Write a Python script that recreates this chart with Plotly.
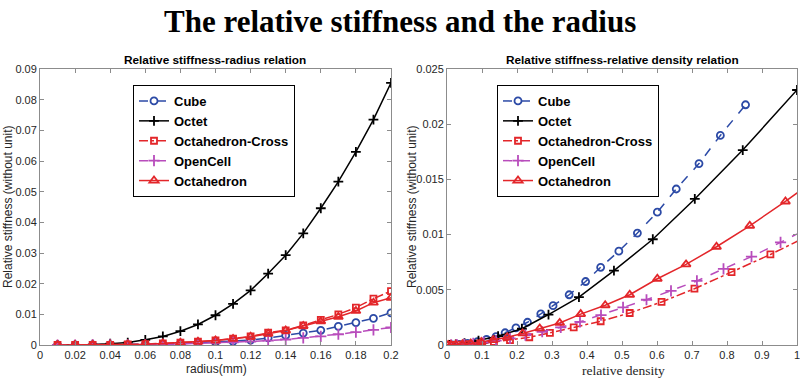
import plotly.graph_objects as go

# ---------------- data ----------------
radius = [0.01, 0.02, 0.03, 0.04, 0.05, 0.06, 0.07, 0.08, 0.09, 0.10,
          0.11, 0.12, 0.13, 0.14, 0.15, 0.16, 0.17, 0.18, 0.19, 0.20]

left_cube = [0.0, 0.00001, 0.00003, 0.00006, 0.00012, 0.0002, 0.0003, 0.00045, 0.0007, 0.0009,
             0.0012, 0.0016, 0.0023, 0.0031, 0.0039, 0.0048, 0.0061, 0.0073, 0.0087, 0.0105]
left_octet = [0.00001, 0.00005, 0.00015, 0.0004, 0.0008, 0.0017, 0.0028, 0.0045, 0.0067, 0.0097,
              0.0134, 0.0178, 0.0233, 0.0293, 0.0364, 0.0446, 0.0533, 0.0630, 0.0735, 0.0855]
left_cross = [0.0, 0.00001, 0.00003, 0.00007, 0.00016, 0.0003, 0.0005, 0.0008, 0.0011, 0.0015,
              0.0021, 0.0028, 0.0040, 0.0048, 0.0064, 0.0082, 0.0100, 0.0122, 0.0151, 0.0176]
left_open = [0.0, 0.0, 0.00001, 0.00003, 0.00007, 0.00013, 0.0002, 0.0003, 0.0005, 0.0007,
             0.0009, 0.0011, 0.0014, 0.0018, 0.0023, 0.0028, 0.0035, 0.0042, 0.0049, 0.0057]
left_octa = [0.0, 0.00001, 0.00003, 0.00006, 0.00014, 0.00028, 0.00048, 0.00075, 0.0011, 0.0015,
             0.0020, 0.0027, 0.0037, 0.0047, 0.0062, 0.0077, 0.0092, 0.0111, 0.0138, 0.0154]

right_cube_x = [0.015, 0.035, 0.059, 0.087, 0.113, 0.140, 0.166, 0.197, 0.230, 0.268,
                0.303, 0.349, 0.396, 0.439, 0.491, 0.544, 0.601, 0.655, 0.720, 0.781, 0.853]
right_cube_y = [0.00002, 0.00006, 0.00015, 0.0003, 0.0005, 0.00075, 0.00111, 0.00156, 0.00206, 0.00282,
                0.00356, 0.00455, 0.00575, 0.00704, 0.0085, 0.01014, 0.01203, 0.01413, 0.01643, 0.01898, 0.02176]

right_octet_x = [0.006, 0.025, 0.050, 0.090, 0.146, 0.214, 0.290, 0.377, 0.477, 0.588, 0.708, 0.845, 1.0]
right_octet_y = [0.00001, 0.00005, 0.00017, 0.0004, 0.00081, 0.00147, 0.00276, 0.00434, 0.00673, 0.00958,
                 0.01323, 0.01766, 0.0231]

right_cross_x = [0.006, 0.018, 0.037, 0.062, 0.095, 0.134, 0.180, 0.235, 0.294, 0.362,
                 0.439, 0.522, 0.613, 0.707, 0.813, 0.924, 1.04]
right_cross_y = [0.0, 0.00001, 0.00003, 0.00007, 0.00014, 0.00027, 0.00045, 0.0007, 0.0011, 0.0016,
                 0.00215, 0.0029, 0.0039, 0.0051, 0.0066, 0.0082, 0.0100]

right_open_x = [0.012, 0.028, 0.049, 0.075, 0.105, 0.140, 0.180, 0.224, 0.272, 0.325,
                0.380, 0.440, 0.503, 0.570, 0.640, 0.714, 0.790, 0.870, 0.953, 1.04]
right_open_y = [0.00001, 0.00003, 0.00007, 0.00014, 0.00025, 0.0004, 0.0006, 0.0009, 0.0012, 0.0016,
                0.0021, 0.0027, 0.0034, 0.0041, 0.0049, 0.0058, 0.0069, 0.0080, 0.0093, 0.0107]

right_octa_x = [0.003, 0.011, 0.025, 0.044, 0.068, 0.098, 0.132, 0.172, 0.216, 0.265,
                0.322, 0.382, 0.452, 0.522, 0.601, 0.683, 0.770, 0.865, 0.967, 1.075]
right_octa_y = [0.0, 0.00001, 0.00002, 0.00006, 0.00014, 0.00027, 0.00045, 0.0007, 0.00105, 0.0015,
                0.0020, 0.0028, 0.0036, 0.00455, 0.0060, 0.0073, 0.0089, 0.0108, 0.0130, 0.0155]

names = ["Cube", "Octet", "Octahedron-Cross", "OpenCell", "Octahedron"]
left_x_ticks = [0, 0.02, 0.04, 0.06, 0.08, 0.1, 0.12, 0.14, 0.16, 0.18, 0.2]
left_y_ticks = [0, 0.01, 0.02, 0.03, 0.04, 0.05, 0.06, 0.07, 0.08, 0.09]
right_x_ticks = [0, 0.1, 0.2, 0.3, 0.4, 0.5, 0.6, 0.7, 0.8, 0.9, 1]
right_y_ticks = [0, 0.005, 0.01, 0.015, 0.02, 0.025]

# ---------------- styles ----------------
BLUE = "#2c4aa6"
BLACK = "#000000"
RED = "#e3262a"
PURPLE = "#b84cbc"
styles = {
    "Cube": dict(color=BLUE, dash="dash", symbol="circle-open", size=7, lw=1.5),
    "Octet": dict(color=BLACK, dash="solid", symbol="cross-thin-open", size=7, lw=1.5),
    "Octahedron-Cross": dict(color=RED, dash="dashdot", symbol="square-open", size=6, lw=1.5),
    "OpenCell": dict(color=PURPLE, dash="dash", symbol="cross-thin-open", size=8, lw=1.5),
    "Octahedron": dict(color=RED, dash="solid", symbol="triangle-up-open", size=8, lw=1.5),
}

fig = go.Figure()

left_sets = [left_cube, left_octet, left_cross, left_open, left_octa]
right_sets = [(right_cube_x, right_cube_y), (right_octet_x, right_octet_y),
              (right_cross_x, right_cross_y), (right_open_x, right_open_y),
              (right_octa_x, right_octa_y)]

for name, ys in zip(names, left_sets):
    s = styles[name]
    fig.add_trace(go.Scatter(
        x=radius, y=ys, name=name, mode="lines+markers",
        line=dict(color=s["color"], dash=s["dash"], width=s["lw"]),
        marker=dict(symbol=s["symbol"], size=s["size"], color=s["color"],
                    line=dict(color=s["color"], width=1.8)),
        xaxis="x", yaxis="y", legend="legend", cliponaxis=True))

for name, (xs, ys) in zip(names, right_sets):
    s = styles[name]
    fig.add_trace(go.Scatter(
        x=xs, y=ys, name=name, mode="lines+markers",
        line=dict(color=s["color"], dash=s["dash"], width=s["lw"]),
        marker=dict(symbol=s["symbol"], size=s["size"], color=s["color"],
                    line=dict(color=s["color"], width=1.8)),
        xaxis="x2", yaxis="y2", legend="legend2", cliponaxis=True))

W, H = 800, 381
def px(x):
    return x / W
def py(y):
    return 1 - y / H

tickfont = dict(family="Liberation Sans, Arial", size=11, color="#262626")
axis_common = dict(showgrid=False, zeroline=False, showline=True, linecolor="#8c8c8c",
                   linewidth=1, mirror="ticks", ticks="inside", ticklen=4,
                   tickcolor="#8c8c8c", tickfont=tickfont, ticklabeloverflow="allow")

legend_font = dict(family="Liberation Sans, Arial", size=13, color="black", weight="bold")

fig.update_layout(
    width=W, height=H,
    margin=dict(l=0, r=0, t=0, b=0, autoexpand=False),
    paper_bgcolor="white", plot_bgcolor="white",
    showlegend=True,
    xaxis=dict(domain=[px(40), px(391)], range=[0, 0.2], tickvals=left_x_ticks,
               ticktext=["0", "0.02", "0.04", "0.06", "0.08", "0.1", "0.12", "0.14", "0.16", "0.18", "0.2"],
               anchor="y", **axis_common),
    yaxis=dict(domain=[py(345), py(69)], range=[0, 0.09], tickvals=left_y_ticks,
               ticktext=["0", "0.01", "0.02", "0.03", "0.04", "0.05", "0.06", "0.07", "0.08", "0.09"],
               anchor="x", **axis_common),
    xaxis2=dict(domain=[px(447), px(797)], range=[0, 1], tickvals=right_x_ticks,
                ticktext=["0", "0.1", "0.2", "0.3", "0.4", "0.5", "0.6", "0.7", "0.8", "0.9", "1"],
                anchor="y2", **axis_common),
    yaxis2=dict(domain=[py(345), py(69)], range=[0, 0.025], tickvals=right_y_ticks,
                ticktext=["0", "0.005", "0.01", "0.015", "0.02", "0.025"],
                anchor="x2", **axis_common),
    legend=dict(x=px(133), y=py(85), xanchor="left", yanchor="top",
                bgcolor="white", bordercolor="#000000", borderwidth=1,
                font=legend_font, tracegroupgap=0, itemwidth=30),
    legend2=dict(x=px(497), y=py(85), xanchor="left", yanchor="top",
                 bgcolor="white", bordercolor="#000000", borderwidth=1,
                 font=legend_font, tracegroupgap=0, itemwidth=30),
)

annots = [
    dict(text="<b>The relative stiffness and the radius</b>", x=0.5, y=py(22),
         font=dict(family="Liberation Serif, Times New Roman", size=31, color="black")),
    dict(text="<b>Relative stiffness-radius relation</b>", x=px(215.5), y=py(60),
         font=dict(family="Liberation Sans, Arial", size=11.8, color="black")),
    dict(text="<b>Relative stiffness-relative density relation</b>", x=px(622.5), y=py(60),
         font=dict(family="Liberation Sans, Arial", size=11.8, color="black")),
    dict(text="radius(mm)", x=px(216), y=py(369),
         font=dict(family="Liberation Sans, Arial", size=12, color="#262626")),
    dict(text="relative density", x=px(623), y=py(370),
         font=dict(family="Liberation Serif, Times New Roman", size=13.5, color="#262626")),
    dict(text="Relative stiffness (without unit)", x=px(8), y=py(207), textangle=-90,
         font=dict(family="Liberation Sans, Arial", size=12, color="#262626")),
    dict(text="Relative stiffness (without unit)", x=px(412), y=py(207), textangle=-90,
         font=dict(family="Liberation Sans, Arial", size=12, color="#262626")),
]
for a in annots:
    fig.add_annotation(xref="paper", yref="paper", showarrow=False,
                       xanchor="center", yanchor="middle", **a)

fig.write_html("out.html", config={"displayModeBar": False},
               post_script="document.body.style.margin='0';document.body.style.padding='0';")
